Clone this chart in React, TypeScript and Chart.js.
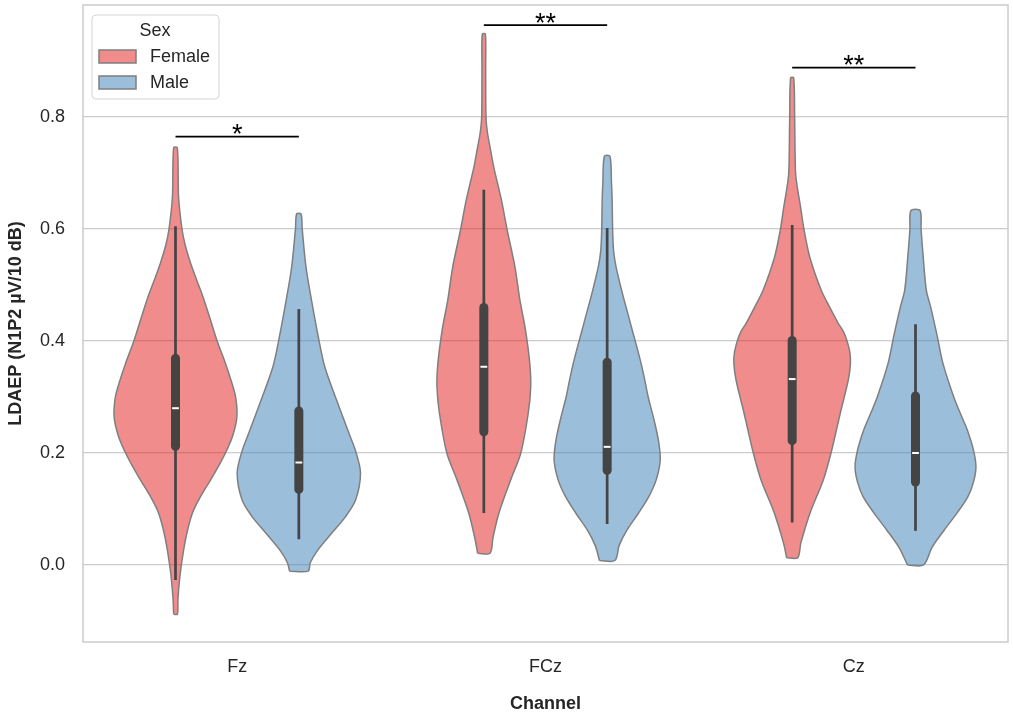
import { useEffect, useRef } from "react";
import {
  Chart,
  registerables,
  type ChartConfiguration,
  type Plugin,
} from "chart.js";

Chart.register(...registerables);

const channels = ["Fz", "FCz", "Cz"];
const sexes = ["Female", "Male"];
const yTicks = [0, 0.2, 0.4, 0.6, 0.8];

// density outlines: LDAEP value, half-width of the violin in x-axis units
const fzFemaleValues = [-0.088, -0.06, -0.027, 0.0, 0.032, 0.062, 0.093, 0.122, 0.152, 0.176, 0.2, 0.23, 0.264, 0.3, 0.33, 0.36, 0.4, 0.44, 0.479, 0.51, 0.539, 0.57, 0.6, 0.657, 0.745];
const fzFemaleWidths = [0.006, 0.008, 0.013, 0.019, 0.028, 0.039, 0.055, 0.081, 0.114, 0.139, 0.162, 0.185, 0.199, 0.195, 0.18, 0.162, 0.135, 0.112, 0.089, 0.068, 0.049, 0.032, 0.021, 0.01, 0.006];
const fzMaleValues = [-0.011, 0.004, 0.027, 0.057, 0.086, 0.116, 0.164, 0.202, 0.236, 0.295, 0.354, 0.402, 0.473, 0.533, 0.6, 0.627];
const fzMaleWidths = [0.03, 0.037, 0.062, 0.107, 0.151, 0.184, 0.2, 0.185, 0.162, 0.122, 0.084, 0.065, 0.041, 0.023, 0.011, 0.007];
const fczFemaleValues = [0.021, 0.05, 0.093, 0.152, 0.2, 0.271, 0.318, 0.36, 0.42, 0.473, 0.532, 0.6, 0.652, 0.711, 0.741, 0.771, 0.8, 0.89, 0.948];
const fczFemaleWidths = [0.02, 0.03, 0.049, 0.087, 0.12, 0.144, 0.152, 0.149, 0.135, 0.117, 0.101, 0.075, 0.057, 0.032, 0.022, 0.012, 0.007, 0.006, 0.005];
const fczMaleValues = [0.008, 0.035, 0.063, 0.092, 0.122, 0.152, 0.187, 0.22, 0.259, 0.3, 0.33, 0.36, 0.39, 0.42, 0.443, 0.486, 0.532, 0.56, 0.593, 0.621, 0.655, 0.682, 0.73];
const fczMaleWidths = [0.025, 0.039, 0.065, 0.101, 0.135, 0.159, 0.172, 0.167, 0.152, 0.133, 0.122, 0.11, 0.096, 0.081, 0.07, 0.049, 0.029, 0.021, 0.018, 0.017, 0.016, 0.014, 0.009];
const czFemaleValues = [0.013, 0.039, 0.093, 0.152, 0.2, 0.271, 0.33, 0.36, 0.38, 0.402, 0.418, 0.432, 0.46, 0.491, 0.55, 0.6, 0.64, 0.67, 0.7, 0.8, 0.87];
const czFemaleWidths = [0.018, 0.028, 0.058, 0.101, 0.126, 0.156, 0.182, 0.189, 0.187, 0.177, 0.165, 0.149, 0.122, 0.094, 0.057, 0.038, 0.027, 0.018, 0.011, 0.008, 0.005];
const czMaleValues = [0.0, 0.032, 0.063, 0.093, 0.122, 0.148, 0.175, 0.205, 0.241, 0.27, 0.3, 0.36, 0.41, 0.461, 0.491, 0.55, 0.6, 0.633];
const czMaleWidths = [0.026, 0.054, 0.094, 0.135, 0.17, 0.188, 0.196, 0.188, 0.168, 0.146, 0.124, 0.089, 0.07, 0.049, 0.035, 0.025, 0.018, 0.015];

// inner box: lower whisker, q1, median, q3, upper whisker
const fzFemaleBox = [-0.027, 0.204, 0.28, 0.377, 0.605];
const fzMaleBox = [0.046, 0.127, 0.183, 0.283, 0.457];
const fczFemaleBox = [0.093, 0.23, 0.354, 0.468, 0.67];
const fczMaleBox = [0.073, 0.161, 0.211, 0.37, 0.602];
const czFemaleBox = [0.076, 0.214, 0.332, 0.409, 0.607];
const czMaleBox = [0.061, 0.14, 0.2, 0.31, 0.43];

// significance brackets per channel
const sigLevels = [0.765, 0.964, 0.888];
const sigLabels = ["*", "**", "**"];

const violins = [
  { channel: 0, sex: 0, values: fzFemaleValues, widths: fzFemaleWidths, box: fzFemaleBox },
  { channel: 0, sex: 1, values: fzMaleValues, widths: fzMaleWidths, box: fzMaleBox },
  { channel: 1, sex: 0, values: fczFemaleValues, widths: fczFemaleWidths, box: fczFemaleBox },
  { channel: 1, sex: 1, values: fczMaleValues, widths: fczMaleWidths, box: fczMaleBox },
  { channel: 2, sex: 0, values: czFemaleValues, widths: czFemaleWidths, box: czFemaleBox },
  { channel: 2, sex: 1, values: czMaleValues, widths: czMaleWidths, box: czMaleBox },
];

const FONT = "'Liberation Sans', Arial, sans-serif";
const TEXT = "#262626";
const FILLS = ["rgba(228,26,28,0.5)", "rgba(55,126,184,0.5)"];
const EDGE = "#7f7f7f";
const INNER = "#444444";
const DODGE = 0.2;
const MEDIAN_HALF = 0.011;
const CAP_INSET = 0.008;

function outline(center: number, values: number[], widths: number[]) {
  const left = values.map((v, i) => ({ x: center - widths[i], y: v }));
  const right = values.map((v, i) => ({ x: center + widths[i], y: v })).reverse();
  return [...left, ...right, left[0]];
}

function buildDatasets() {
  const sets: any[] = [];
  const line = { showLine: true, pointRadius: 0, pointHoverRadius: 0, fill: false };
  violins.forEach((vi) => {
    const c = vi.channel + (vi.sex === 0 ? -DODGE : DODGE);
    sets.push({
      ...line,
      data: outline(c, vi.values, vi.widths),
      fill: "shape",
      indexAxis: "y",
      tension: 0.3,
      backgroundColor: FILLS[vi.sex],
      borderColor: EDGE,
      borderWidth: 1.5,
      order: 4,
    });
    sets.push({
      ...line,
      data: [
        { x: c, y: vi.box[0] },
        { x: c, y: vi.box[4] },
      ],
      borderColor: INNER,
      borderWidth: 2.7,
      order: 3,
    });
    sets.push({
      ...line,
      data: [
        { x: c, y: vi.box[1] + CAP_INSET },
        { x: c, y: vi.box[3] - CAP_INSET },
      ],
      borderColor: INNER,
      borderWidth: 9,
      borderCapStyle: "round",
      order: 2,
    });
    sets.push({
      ...line,
      data: [
        { x: c - MEDIAN_HALF, y: vi.box[2] },
        { x: c + MEDIAN_HALF, y: vi.box[2] },
      ],
      borderColor: "#ffffff",
      borderWidth: 2,
      order: 1,
    });
  });
  sigLevels.forEach((lvl, i) => {
    sets.push({
      ...line,
      data: [
        { x: i - DODGE, y: lvl },
        { x: i + DODGE, y: lvl },
      ],
      borderColor: "#000000",
      borderWidth: 1.8,
      order: 0,
    });
  });
  return sets;
}

const decorations: Plugin<"scatter"> = {
  id: "decorations",
  beforeDatasetsDraw(chart) {
    const { ctx, chartArea: a } = chart;
    ctx.save();
    ctx.strokeStyle = "#cccccc";
    ctx.lineWidth = 1.5;
    ctx.strokeRect(a.left, a.top, a.right - a.left, a.bottom - a.top);
    ctx.restore();
  },
  afterDraw(chart) {
    const { ctx, chartArea: a, scales } = chart;
    ctx.save();

    // significance stars
    ctx.fillStyle = "#000000";
    ctx.font = `27px ${FONT}`;
    ctx.textAlign = "center";
    ctx.textBaseline = "alphabetic";
    sigLevels.forEach((lvl, i) => {
      ctx.fillText(sigLabels[i], scales.x.getPixelForValue(i), scales.y.getPixelForValue(lvl) + 6.5);
    });

    // legend
    const x0 = a.left + 9;
    const y0 = a.top + 10;
    ctx.beginPath();
    ctx.roundRect(x0, y0, 127, 84, 4);
    ctx.fillStyle = "rgba(255,255,255,0.85)";
    ctx.fill();
    ctx.strokeStyle = "#d5d5d5";
    ctx.lineWidth = 1;
    ctx.stroke();

    ctx.fillStyle = TEXT;
    ctx.font = `18px ${FONT}`;
    ctx.textBaseline = "middle";
    ctx.textAlign = "center";
    ctx.fillText("Sex", x0 + 63, y0 + 16);
    ctx.textAlign = "left";
    sexes.forEach((s, i) => {
      const py = y0 + 35 + i * 26;
      ctx.fillStyle = "#ffffff";
      ctx.fillRect(x0 + 7, py, 37, 13);
      ctx.fillStyle = FILLS[i];
      ctx.fillRect(x0 + 7, py, 37, 13);
      ctx.strokeStyle = EDGE;
      ctx.lineWidth = 1.5;
      ctx.strokeRect(x0 + 7, py, 37, 13);
      ctx.fillStyle = TEXT;
      ctx.fillText(s, x0 + 58, py + 7);
    });
    ctx.restore();
  },
};

export default function App() {
  const canvasRef = useRef<HTMLCanvasElement>(null);
  const chartRef = useRef<Chart | null>(null);

  useEffect(() => {
    if (!canvasRef.current) return;
    const cfg: ChartConfiguration<"scatter"> = {
      type: "scatter",
      data: { datasets: buildDatasets() },
      options: {
        animation: false,
        responsive: true,
        maintainAspectRatio: false,
        events: [],
        layout: { padding: { top: 5, right: 5, left: 0, bottom: 0 } },
        plugins: {
          legend: { display: false },
          tooltip: { enabled: false },
        },
        scales: {
          x: {
            type: "linear",
            min: -0.5,
            max: 2.5,
            afterBuildTicks: (scale) => {
              scale.ticks = channels.map((_, i) => ({ value: i }));
            },
            afterFit: (scale: any) => {
              scale.height = 75;
              scale.paddingLeft = 0;
              scale.paddingRight = 0;
            },
            grid: { display: false, drawTicks: false },
            border: { display: false },
            ticks: {
              padding: 14,
              color: TEXT,
              font: { family: FONT, size: 18 },
              callback: (v) => channels[Number(v)] ?? "",
            },
            title: {
              display: true,
              text: "Channel",
              color: TEXT,
              font: { family: FONT, size: 18, weight: "bold" },
              padding: { bottom: 2 },
            },
          },
          y: {
            type: "linear",
            min: -0.1375,
            max: 1.0,
            afterBuildTicks: (scale) => {
              scale.ticks = yTicks.map((v) => ({ value: v }));
            },
            afterFit: (scale: any) => {
              scale.width = 83;
              scale.paddingTop = 0;
              scale.paddingBottom = 0;
            },
            grid: { color: "#cccccc", lineWidth: 1.3, drawTicks: false },
            border: { display: false },
            ticks: {
              padding: 18,
              color: TEXT,
              font: { family: FONT, size: 18 },
              callback: (v) => Number(v).toFixed(1),
            },
            title: {
              display: true,
              text: "LDAEP (N1P2 µV/10 dB)",
              color: TEXT,
              font: { family: FONT, size: 18, weight: "bold" },
              padding: { top: 5 },
            },
          },
        },
      },
      plugins: [decorations],
    };
    chartRef.current = new Chart(canvasRef.current, cfg);
    return () => {
      chartRef.current?.destroy();
      chartRef.current = null;
    };
  }, []);

  return (
    <div
      style={{
        position: "absolute",
        left: 0,
        top: 0,
        width: 1013,
        height: 717,
        background: "#ffffff",
      }}
    >
      <canvas ref={canvasRef} />
    </div>
  );
}
